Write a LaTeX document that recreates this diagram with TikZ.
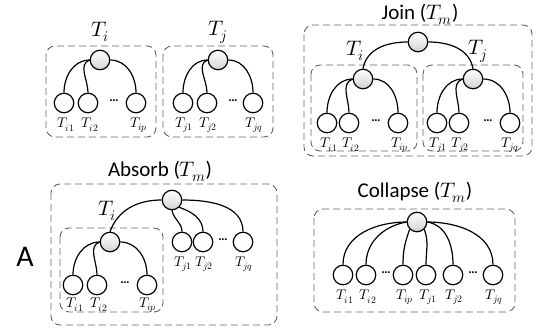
\documentclass[tikz,border=0pt]{standalone}
\usepackage{amsmath}
\usepackage{fontspec}
\usepackage{unicode-math}
\setmainfont{Carlito}
\setmathfont{Latin Modern Math}
\usepackage{tikz}
\usetikzlibrary{positioning}

\begin{document}
\begin{tikzpicture}[x=1pt, y=-1pt, semithick,
  rt/.style={circle, draw, line width=1.2pt, minimum size=19.5pt, inner sep=0pt, top color=white, bottom color=gray!35},
  lf/.style={circle, draw, line width=1.2pt, minimum size=19.5pt, inner sep=0pt, fill=white},
  grp/.style={draw=black!60, line width=0.9pt, dash pattern=on 7pt off 4pt, rounded corners=9pt},
  br/.style={line width=1.2pt},
  ttl/.style={font=\fontsize{21}{24}\selectfont},
  sub/.style={font=\fontsize{21}{24}\selectfont},
  lab/.style={font=\fontsize{14}{16}\selectfont, inner sep=0pt},
  dts/.style={font=\fontsize{13}{15}\selectfont\bfseries, inner sep=0pt}]
  \useasboundingbox (0,0) rectangle (538,331);

  % T_i and T_j alone
  \draw [grp] (46,46) rectangle (156,137);
  \draw [grp] (163,46) rectangle (273,137);
  \node [sub] at (100,32) {$T_i$};
  \node [sub] at (218,32) {$T_j$};
  \node [rt] (ai) at (100,60) {};
  \node [lf] (ai1) at (64,103) {};
  \node [lf] (ai2) at (88,103) {};
  \node [lf] (aip) at (136,103) {};
  \node [dts] at (114,101) {\dots};
  \node [rt] (bj) at (218,60) {};
  \node [lf] (bj1) at (183,103) {};
  \node [lf] (bj2) at (207,103) {};
  \node [lf] (bjq) at (253,103) {};
  \node [dts] at (233,101) {\dots};
  \node [lab] at (66,125) {$T_{i1}$};
  \node [lab] at (90,125) {$T_{i2}$};
  \node [lab] at (139,125) {$T_{ip}$};
  \node [lab] at (184,125) {$T_{j1}$};
  \node [lab] at (208,125) {$T_{j2}$};
  \node [lab] at (254,125) {$T_{jq}$};
  \path [br]
  (ai.west) edge [out=180, in=90] (ai1.north)
  (ai.west) edge [out=200, in=90] (ai2.north)
  (ai.east) edge [out=0, in=90] (aip.north)
  (bj.west) edge [out=180, in=90] (bj1.north)
  (bj.west) edge [out=200, in=90] (bj2.north)
  (bj.east) edge [out=0, in=90] (bjq.north)
  ;

  % Join
  \node [ttl] at (420,14) {Join ($T_m$)};
  \draw [grp] (304,25) rectangle (532,156);
  \draw [grp] (311,65) rectangle (417,151);
  \draw [grp] (423,65) rectangle (523,151);
  \node [sub] at (355,51) {$T_i$};
  \node [sub] at (478,51) {$T_j$};
  \node [rt] (jm) at (418,42) {};
  \node [rt] (ji) at (363,79) {};
  \node [rt] (jj) at (473,79) {};
  \node [lf] (ji1) at (327,123) {};
  \node [lf] (ji2) at (349,123) {};
  \node [lf] (jip) at (398,123) {};
  \node [dts] at (376,121) {\dots};
  \node [lf] (jj1) at (437,123) {};
  \node [lf] (jj2) at (459,123) {};
  \node [lf] (jjq) at (510,123) {};
  \node [dts] at (488,121) {\dots};
  \node [lab] at (329,145) {$T_{i1}$};
  \node [lab] at (351,145) {$T_{i2}$};
  \node [lab] at (400,145) {$T_{ip}$};
  \node [lab] at (438,145) {$T_{j1}$};
  \node [lab] at (460,145) {$T_{j2}$};
  \node [lab] at (510,145) {$T_{jq}$};
  \path [br]
  (jm.west) edge [out=180, in=80] (ji.north)
  (jm.east) edge [out=0, in=100] (jj.north)
  (ji.west) edge [out=180, in=90] (ji1.north)
  (ji.west) edge [out=200, in=90] (ji2.north)
  (ji.east) edge [out=0, in=90] (jip.north)
  (jj.west) edge [out=180, in=90] (jj1.north)
  (jj.west) edge [out=200, in=90] (jj2.north)
  (jj.east) edge [out=0, in=90] (jjq.north)
  ;

  % Absorb
  \node [font=\fontsize{30}{32}\selectfont] at (25,257) {A};
  \node [ttl] at (160,171) {Absorb ($T_m$)};
  \draw [grp] (51,184) rectangle (277,325);
  \draw [grp] (60,228) rectangle (163,312);
  \node [sub] at (107,211) {$T_i$};
  \node [rt] (am) at (172,200) {};
  \node [rt] (ai0) at (110,242) {};
  \node [lf] (abi1) at (73,285) {};
  \node [lf] (abi2) at (97,285) {};
  \node [lf] (abip) at (147,285) {};
  \node [dts] at (125,283) {\dots};
  \node [lf] (abj1) at (182,242) {};
  \node [lf] (abj2) at (203,242) {};
  \node [lf] (abjq) at (243,242) {};
  \node [dts] at (223,240) {\dots};
  \node [lab] at (75,305) {$T_{i1}$};
  \node [lab] at (99,305) {$T_{i2}$};
  \node [lab] at (148,305) {$T_{ip}$};
  \node [lab] at (183,264) {$T_{j1}$};
  \node [lab] at (204,264) {$T_{j2}$};
  \node [lab] at (244,264) {$T_{jq}$};
  \path [br]
  (am.west) edge [out=180, in=70] (ai0.north)
  (am.south) edge [out=-80, in=90] (abj1.north)
  (am.south east) edge [out=-20, in=90] (abj2.north)
  (am.east) edge [out=0, in=90] (abjq.north)
  (ai0.west) edge [out=180, in=90] (abi1.north)
  (ai0.west) edge [out=200, in=90] (abi2.north)
  (ai0.east) edge [out=0, in=90] (abip.north)
  ;

  % Collapse
  \node [ttl] at (415,192) {Collapse ($T_m$)};
  \draw [grp] (314,209) rectangle (515,312);
  \node [rt] (cm) at (417,222) {};
  \node [lf] (ci1) at (343,275) {};
  \node [lf] (ci2) at (366,275) {};
  \node [lf] (cip) at (403,275) {};
  \node [lf] (cj1) at (426,275) {};
  \node [lf] (cj2) at (453,275) {};
  \node [lf] (cjq) at (493,275) {};
  \node [dts] at (386,273) {\dots};
  \node [dts] at (473,273) {\dots};
  \node [lab] at (345,297) {$T_{i1}$};
  \node [lab] at (368,297) {$T_{i2}$};
  \node [lab] at (405,297) {$T_{ip}$};
  \node [lab] at (428,297) {$T_{j1}$};
  \node [lab] at (454,297) {$T_{j2}$};
  \node [lab] at (494,297) {$T_{jq}$};
  \path [br]
  (cm.west) edge [out=180, in=90] (ci1.north)
  (cm.west) edge [out=190, in=90] (ci2.north)
  (cm.south west) edge [out=250, in=90] (cip.north)
  (cm.south east) edge [out=290, in=90] (cj1.north)
  (cm.east) edge [out=350, in=90] (cj2.north)
  (cm.east) edge [out=0, in=90] (cjq.north)
  ;
\end{tikzpicture}
\end{document}
